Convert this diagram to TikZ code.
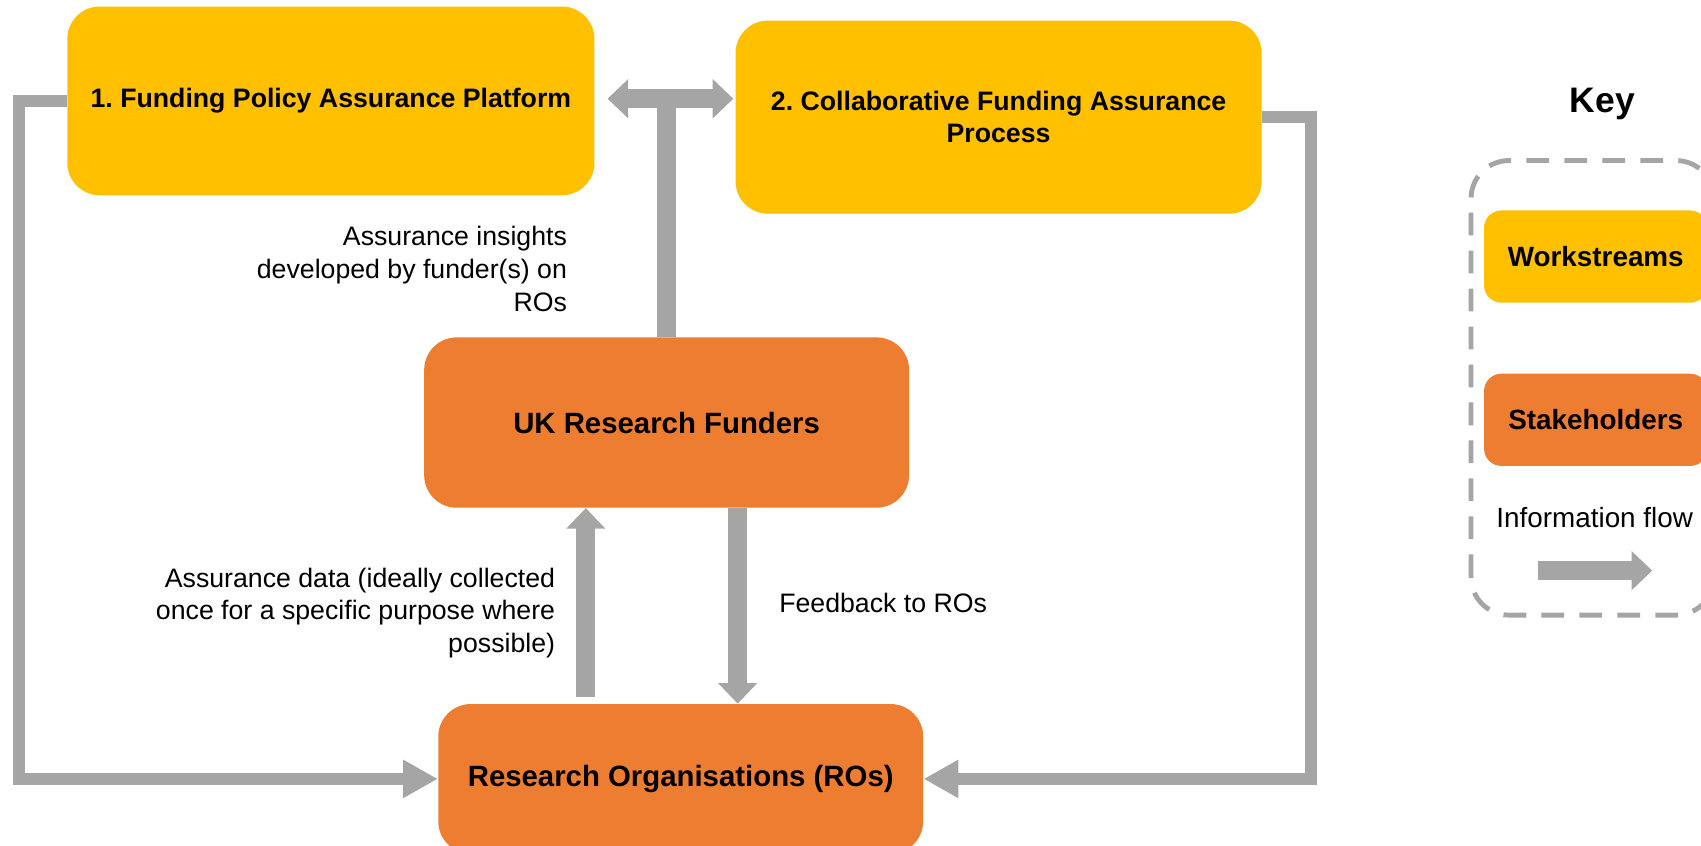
\documentclass[tikz,border=0pt]{standalone}
\usepackage{fontspec}
\setmainfont{Liberation Sans}
\usepackage{tikz}
\usetikzlibrary{arrows.meta}
\definecolor{wsyellow}{HTML}{FFC000}
\definecolor{shorange}{HTML}{ED7D31}
\definecolor{flowgrey}{HTML}{A5A5A5}
\newcommand{\labelsize}{\fontsize{14}{17.1}\selectfont}
\newcommand{\wssize}{\fontsize{14}{16.5}\selectfont\bfseries}
\newcommand{\shsize}{\fontsize{15.4}{18}\selectfont\bfseries}
\newcommand{\keysize}{\fontsize{14.6}{17}\selectfont}
\frenchspacing

\tikzset{
  workstream/.style = {rectangle, rounded corners=0.6cm, fill=wsyellow,
    align=center, inner sep=0pt, font=\wssize},
  stakeholder/.style = {rectangle, rounded corners=0.6cm, fill=shorange,
    align=center, inner sep=0pt, font=\shsize},
  flow/.style = {draw=flowgrey, line width=0.22cm,
    -{Triangle[width=0.66cm,length=0.64cm]}},
  bigflow/.style = {draw=flowgrey, line width=0.35cm},
  bighead/.style = {-{Triangle[width=0.7cm,length=0.38cm]}},
  annot/.style = {align=right, inner sep=0pt, font=\labelsize},
  keyline/.style = {draw=flowgrey, line width=0.09cm, rounded corners=0.7cm,
    dash pattern=on 0.42cm off 0.28cm},
}

\begin{document}
\begin{tikzpicture}
  \useasboundingbox (0,0) rectangle (31.36,15.58);

  % workstreams and stakeholders
  \node [workstream, minimum width=9.72cm, minimum height=3.48cm] (fpap)
    at (6.10,13.72) {1. Funding Policy Assurance Platform};
  \node [workstream, minimum width=9.70cm, minimum height=3.56cm] (cfap)
    at (18.41,13.42) {2. Collaborative Funding Assurance\\Process};
  \node [stakeholder, minimum width=8.94cm, minimum height=3.14cm] (ukrf)
    at (12.29,7.79) {UK Research Funders};
  \node [stakeholder, minimum width=8.94cm, minimum height=2.76cm] (ros)
    at (12.55,1.22) {Research Organisations (ROs)};

  % outer loops
  \draw [flow] (fpap.west) -- ++(-0.88,0) |- (ros.west);
  \draw [flow] (cfap.east) -- ++(0.91,0) |- (ros.east);

  % funders to workstreams
  \coordinate (tl) at (11.20,13.76);
  \coordinate (tr) at (13.52,13.76);
  \draw [bigflow] (ukrf.north) -- (ukrf.north |- tl);
  \draw [bigflow, {Triangle[width=0.7cm,length=0.38cm]}-{Triangle[width=0.7cm,length=0.38cm]}]
    (tl) -- (tr);

  % funders and ROs
  \draw [bigflow, bighead] ([xshift=-1.75cm, yshift=0.12cm]ros.north)
    -- ([xshift=-1.75cm]ros.north |- ukrf.south);
  \draw [bigflow, bighead] ([xshift=1.31cm]ukrf.south)
    -- ([xshift=1.31cm]ukrf.south |- ros.north);

  \node [annot, anchor=east] (insights) at (10.46,10.62)
    {Assurance insights\\developed by funder(s) on\\ROs};
  \node [annot, anchor=east] (data) at (10.24,4.28)
    {Assurance data (ideally collected\\once for a specific purpose where\\possible)};
  \node [annot, anchor=west, align=left] (feedback) at (14.36,4.46)
    {Feedback to ROs};

  % key
  \node [font=\fontsize{18.6}{22}\selectfont\bfseries] (key) at (29.54,13.66) {Key};
  \draw [keyline] (27.12,4.24) rectangle (31.6,12.62);
  \node [workstream, rounded corners=0.32cm, minimum width=4.12cm,
    minimum height=1.7cm, font=\keysize\bfseries] (keyws) at (29.42,10.85) {Workstreams};
  \node [stakeholder, rounded corners=0.32cm, minimum width=4.12cm,
    minimum height=1.7cm, font=\keysize\bfseries] (keysh) at (29.42,7.84) {Stakeholders};
  \node [font=\keysize] (keyflow) at (29.40,6.04) {Information flow};
  \coordinate (kfa) at (28.36,5.06);
  \coordinate (kfb) at (30.46,5.06);
  \draw [bigflow, bighead] (kfa) -- (kfb);
\end{tikzpicture}
\end{document}
